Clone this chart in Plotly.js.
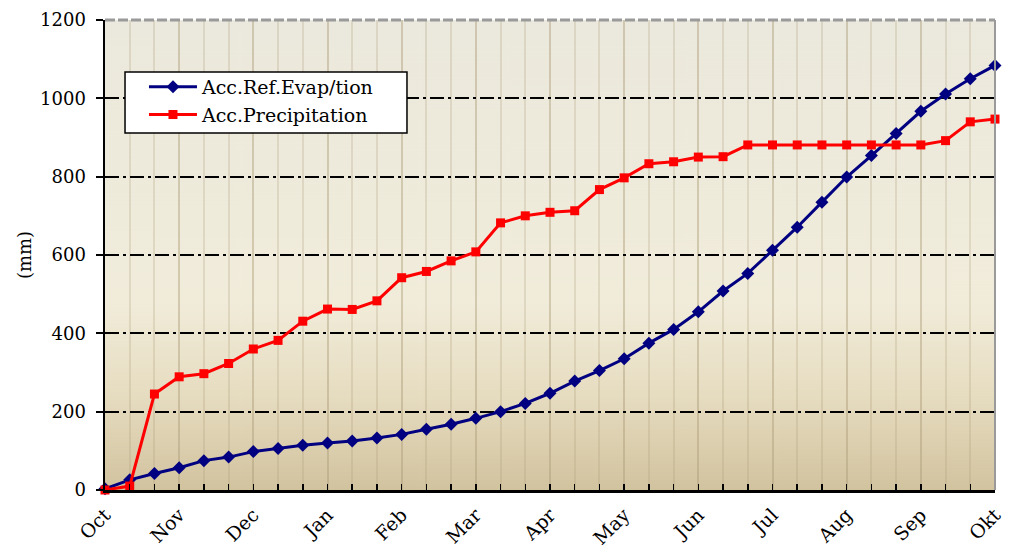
<!DOCTYPE html>
<html>
<head>
<meta charset="utf-8">
<script src="https://cdn.plot.ly/plotly-3.0.1.min.js"></script>
<style>
  html, body { margin: 0; padding: 0; background: #ffffff; }
  #chart { width: 1014px; height: 550px; }
</style>
</head>
<body>
<div id="chart"></div>
<script>
// Dekad index (3 per month), Oct -> next Oct
const dekads = Array.from({length: 37}, (_, i) => i);
const monthTickPos = [0, 3, 6, 9, 12, 15, 18, 21, 24, 27, 30, 33, 36];
const monthLabels = ["Oct", "Nov", "Dec", "Jan", "Feb", "Mar", "Apr", "May", "Jun", "Jul", "Aug", "Sep", "Okt"];

const accRefEvap = [3, 26, 42, 57, 75, 84, 98, 106, 114, 120, 125, 133, 142,
  155, 168, 183, 200, 221, 247, 278, 305, 335, 375, 410, 455,
  508, 553, 612, 671, 735, 799, 854, 910, 967, 1011, 1050, 1084];

const accPrecip = [0, 10, 245, 289, 297, 323, 360, 382, 431, 462, 461, 483, 542,
  558, 585, 608, 682, 700, 709, 713, 767, 797, 833, 838, 850,
  851, 881, 881, 881, 881, 881, 881, 881, 881, 892, 940, 947];

const yTicks = [0, 200, 400, 600, 800, 1000, 1200];

// gradient background for plot area
const cv = document.createElement('canvas');
cv.width = 10; cv.height = 470;
const ctx = cv.getContext('2d');
const g = ctx.createLinearGradient(0, 0, 0, 470);
g.addColorStop(0, '#ebe9dd');
g.addColorStop(0.6, '#f1ecda');
g.addColorStop(0.8, '#e6dcc0');
g.addColorStop(1, '#d2c39f');
ctx.fillStyle = g;
ctx.fillRect(0, 0, 10, 470);
const bgURL = cv.toDataURL();

const font = 'DejaVu Serif, Liberation Serif, serif';

const traces = [
  {
    x: dekads, y: accRefEvap, name: 'Acc.Ref.Evap/tion',
    type: 'scatter', mode: 'lines+markers',
    line: {color: '#000080', width: 3},
    marker: {symbol: 'diamond', size: 10, color: '#000080'},
    cliponaxis: false
  },
  {
    x: dekads, y: accPrecip, name: 'Acc.Precipitation',
    type: 'scatter', mode: 'lines+markers',
    line: {color: '#ff0000', width: 3},
    marker: {symbol: 'square', size: 9, color: '#ff0000'},
    cliponaxis: false
  }
];

const layout = {
  width: 1014, height: 550,
  margin: {l: 105, r: 19, t: 20, b: 60},
  paper_bgcolor: '#ffffff',
  plot_bgcolor: 'rgba(0,0,0,0)',
  font: {family: font, size: 18, color: '#000000'},
  showlegend: true,
  legend: {
    x: 0.0438, y: 0.898, xanchor: 'left', yanchor: 'top',
    bgcolor: 'rgba(0,0,0,0)', borderwidth: 0,
    font: {family: font, size: 19, color: '#000'},
    itemwidth: 48,
    tracegroupgap: 0
  },
  xaxis: {
    range: [0, 36],
    tickmode: 'array', tickvals: monthTickPos, ticktext: monthLabels,
    tickangle: -45,
    ticks: 'inside', ticklen: 6, tickwidth: 1.5, tickcolor: '#000',
    showline: true, linecolor: '#000', linewidth: 2.5,
    showgrid: true, gridcolor: 'rgba(170,155,120,0.25)', gridwidth: 2,
    minor: {dtick: 1, tick0: 0, ticks: 'inside', ticklen: 6, tickwidth: 1.5, tickcolor: '#000',
            showgrid: true, gridcolor: 'rgba(170,155,120,0.25)', gridwidth: 2},
    zeroline: false,
    ticklabelstandoff: 4,
    tickfont: {family: font, size: 19, color: '#000'},
    fixedrange: true
  },
  yaxis: {
    range: [0, 1200],
    tickmode: 'array', tickvals: yTicks,
    ticks: 'outside', ticklen: 7, tickwidth: 2, tickcolor: '#000',
    showline: true, linecolor: '#000', linewidth: 2.5,
    showgrid: true, gridcolor: '#000000', gridwidth: 2, griddash: '14px,4px,3px,4px',
    zeroline: false,
    ticklabelstandoff: 6,
    tickfont: {family: font, size: 18, color: '#000'},
    title: {text: '(mm)', font: {family: font, size: 18, color: '#000'}, standoff: 4},
    fixedrange: true
  },
  images: [{
    source: bgURL, xref: 'paper', yref: 'paper',
    x: 0, y: 1, sizex: 1, sizey: 1, sizing: 'stretch',
    xanchor: 'left', yanchor: 'top', layer: 'below'
  }],
  shapes: [
    {type: 'line', xref: 'paper', yref: 'paper', x0: 0, x1: 1, y0: 1, y1: 1,
     line: {color: '#9a9a9a', width: 3, dash: '10px,3px'}},
    {type: 'line', xref: 'paper', yref: 'paper', x0: 1, x1: 1, y0: 0, y1: 1,
     line: {color: '#9a9a9a', width: 2}},
    {type: 'rect', xref: 'paper', yref: 'paper', x0: 0.0225, x1: 0.3393, y0: 0.7596, y1: 0.8894,
     fillcolor: '#ffffff', line: {color: '#000000', width: 1.5}, layer: 'above'}
  ]
};

Plotly.newPlot('chart', traces, layout, {displayModeBar: false, staticPlot: true});
</script>
</body>
</html>
